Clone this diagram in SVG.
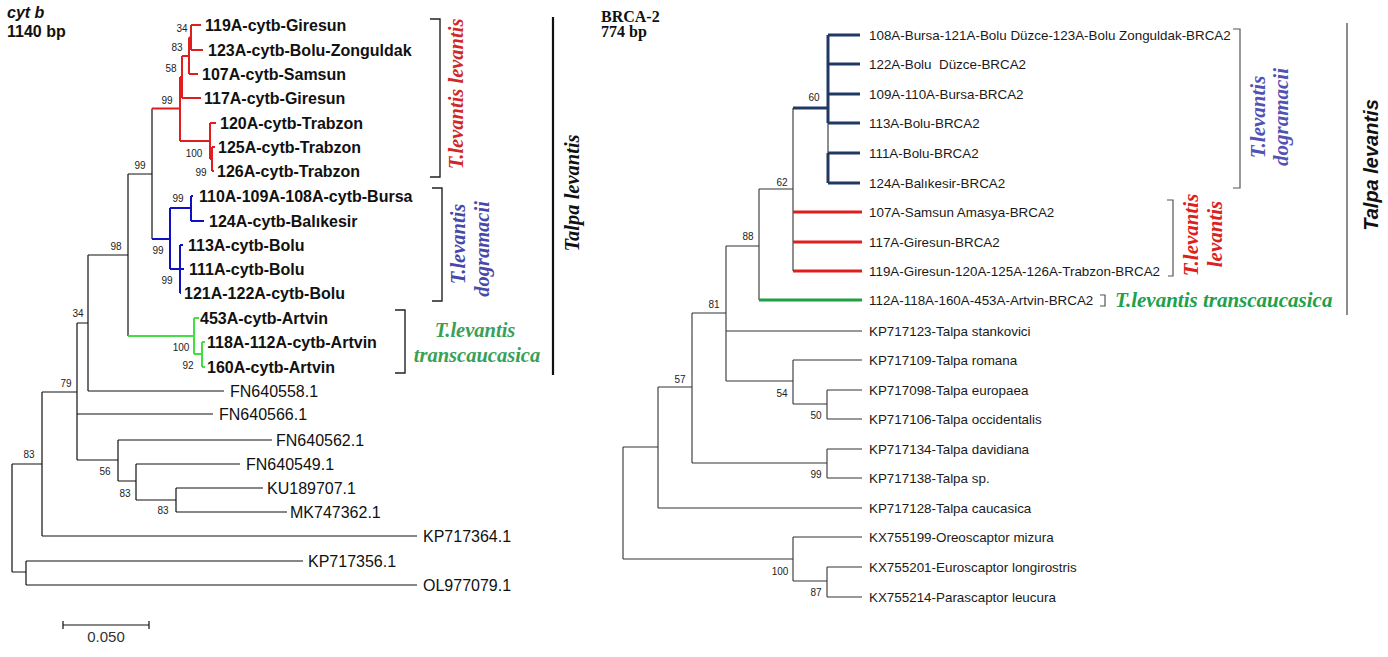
<svg xmlns="http://www.w3.org/2000/svg" width="1388" height="657" viewBox="0 0 1388 657">
<style>
.bg{fill:#fff}
.k{stroke:#111;stroke-width:1.2;fill:none}
.kr{stroke:#333;stroke-width:1.1;fill:none}
.red{stroke:#e01e1e;stroke-width:2;fill:none}
.blu{stroke:#1010c0;stroke-width:2;fill:none}
.grn{stroke:#44dd44;stroke-width:2;fill:none}
.rred{stroke:#e01e1e;stroke-width:3;fill:none}
.rnav{stroke:#1f3864;stroke-width:3;fill:none}
.rgrn{stroke:#1fa044;stroke-width:3;fill:none}
.brk{stroke:#222;stroke-width:1.4;fill:none}
.brkr{stroke:#555;stroke-width:1.2;fill:none}
.lb{font-family:"Liberation Sans",Arial,sans-serif;font-weight:bold;font-size:16px;fill:#111}
.ln{font-family:"Liberation Sans",Arial,sans-serif;font-size:16px;fill:#111}
.rl{font-family:"Liberation Sans",Arial,sans-serif;font-size:13.4px;fill:#1a1a1a}
.bs{font-family:"Liberation Sans",Arial,sans-serif;font-size:10px;fill:#222;text-anchor:middle}
.cl{font-family:"Liberation Serif","Times New Roman",serif;font-weight:bold;font-style:italic;font-size:20.5px}
.clr{font-family:"Liberation Serif","Times New Roman",serif;font-weight:bold;font-style:italic;font-size:21px}
</style>
<rect class="bg" x="0" y="0" width="1388" height="657"/>

<g id="title-left">
<text x="7" y="18" style="font-family:'Liberation Sans',Arial,sans-serif;font-weight:bold;font-style:italic;font-size:16px" fill="#111">cyt b</text>
<text x="7" y="36.5" class="lb">1140 bp</text>
</g>
<g id="title-right">
<text x="601" y="22" style="font-family:'Liberation Serif','Times New Roman',serif;font-weight:bold;font-size:16px" fill="#111">BRCA-2</text>
<text x="601" y="37" style="font-family:'Liberation Serif','Times New Roman',serif;font-weight:bold;font-size:16px" fill="#111">774 bp</text>
</g>

<g id="connectors">
<path class="k" d="M12 464V572M12 464H42M12 572H26M26 561V585M26 561H303M26 585H417M42 392V536M42 392H77M42 536H417M77 323V460M77 323H88M77 414H213M77 460H118M118 440V481M118 440H272M118 481H136M136 464V500M136 464H240M136 500H176M176 488V512M176 488H263M176 512H287M88 255V391M88 255H128M88 391H224M128 174V336M128 174H152M152 108.5V239"/>
<path class="red" d="M152 108.5H180M180 77V141M180 77H182M182 56V98M182 56H189M189 37.5V74M189 37.5H191M191 25V50M191 25H201M191 50H203M189 74H198M182 98H201M180 141H210M210 123V159M210 123H216M210 159H212M212 147V171M212 147H215M212 171H214"/>
<path class="blu" d="M152 239H170M170 208V269M170 208H191M191 196V221M191 196H193M191 221H204M170 269H180M180 245V293M180 245H183M180 269H184M180 293H181"/>
<path class="grn" d="M128 336H194M194 318V354M194 318H199M194 354H202M202 342V367M202 342H205M202 367H205"/>
<path class="k" d="M63 625H149M63 621V629M149 621V629"/>
<path class="kr" d="M623 447V559M623 447H658M658 387V508M658 508H862M658 387H692M692 313V463M692 313H726M726 246V381M726 331H862M726 381H793M793 360V404M793 360H862M793 404H827M827 390V419M827 390H862M827 419H862M692 463H827M827 449V478M827 449H862M827 478H862M623 559H793M793 537V581M793 537H862M793 581H827M827 567V597M827 567H862M827 597H862M726 246H759M759 189V300M759 189H793M793 108V271M828 123V153"/>
<path class="rnav" d="M793 108H828M828 35V123M828 153V183M828 35H860M828 64H860M828 94H860M828 123H860M828 153H860M828 183H860"/>
<path class="rred" d="M793 212H862M793 242H862M793 271H862"/>
<path class="rgrn" d="M759 300H862"/>
<path class="brk" d="M430 19H440V177H430M432 188H442V301H432M395 310H405V373H395"/>
<path d="M553 17V375" stroke="#111" stroke-width="2.2" fill="none"/>
<path class="brkr" d="M1233 29H1240V188H1233M1167 200H1173V276H1168M1100 295H1105V306H1100"/>
<path d="M1347 23V315" stroke="#666" stroke-width="1.5" fill="none"/>
</g>

<g id="scale-label"><text x="106" y="642" text-anchor="middle" style="font-family:'Liberation Sans',Arial,sans-serif;font-size:15px" fill="#333">0.050</text></g>

<g id="left-leaves">
<g id="L119A"><text class="lb" x="205" y="31">119A-cytb-Giresun</text></g>
<g id="L123A"><text class="lb" x="208" y="56">123A-cytb-Bolu-Zonguldak</text></g>
<g id="L107A"><text class="lb" x="202" y="80">107A-cytb-Samsun</text></g>
<g id="L117A"><text class="lb" x="204" y="104">117A-cytb-Giresun</text></g>
<g id="L120A"><text class="lb" x="220" y="129">120A-cytb-Trabzon</text></g>
<g id="L125A"><text class="lb" x="218" y="153">125A-cytb-Trabzon</text></g>
<g id="L126A"><text class="lb" x="217" y="177">126A-cytb-Trabzon</text></g>
<g id="L110A"><text class="lb" x="199" y="202">110A-109A-108A-cytb-Bursa</text></g>
<g id="L124A"><text class="lb" x="209" y="227">124A-cytb-Balıkesir</text></g>
<g id="L113A"><text class="lb" x="188" y="251">113A-cytb-Bolu</text></g>
<g id="L111A"><text class="lb" x="189" y="275">111A-cytb-Bolu</text></g>
<g id="L121A"><text class="lb" x="184" y="299">121A-122A-cytb-Bolu</text></g>
<g id="L453A"><text class="lb" x="200" y="324">453A-cytb-Artvin</text></g>
<g id="L118A"><text class="lb" x="207" y="348">118A-112A-cytb-Artvin</text></g>
<g id="L160A"><text class="lb" x="207" y="373">160A-cytb-Artvin</text></g>
<g id="LFN640558"><text class="ln" x="230" y="397">FN640558.1</text></g>
<g id="LFN640566"><text class="ln" x="219" y="420">FN640566.1</text></g>
<g id="LFN640562"><text class="ln" x="276" y="446">FN640562.1</text></g>
<g id="LFN640549"><text class="ln" x="246" y="470">FN640549.1</text></g>
<g id="LKU189707"><text class="ln" x="267" y="494">KU189707.1</text></g>
<g id="LMK747362"><text class="ln" x="290" y="518">MK747362.1</text></g>
<g id="LKP717364"><text class="ln" x="423" y="542">KP717364.1</text></g>
<g id="LKP717356"><text class="ln" x="308" y="567">KP717356.1</text></g>
<g id="LOL977079"><text class="ln" x="423" y="591">OL977079.1</text></g>
</g>

<g id="left-support">
<text class="bs" x="182" y="31.5">34</text>
<text class="bs" x="177" y="50.5">83</text>
<text class="bs" x="171" y="71.5">58</text>
<text class="bs" x="167" y="103.5">99</text>
<text class="bs" x="194" y="156.5">100</text>
<text class="bs" x="201" y="175.5">99</text>
<text class="bs" x="140" y="168.5">99</text>
<text class="bs" x="178" y="201.5">99</text>
<text class="bs" x="158" y="253.5">99</text>
<text class="bs" x="167" y="283.5">99</text>
<text class="bs" x="116" y="249.5">98</text>
<text class="bs" x="181" y="350.5">100</text>
<text class="bs" x="188" y="368.5">92</text>
<text class="bs" x="78" y="316.5">34</text>
<text class="bs" x="66" y="386.5">79</text>
<text class="bs" x="29" y="457.5">83</text>
<text class="bs" x="105" y="474.5">56</text>
<text class="bs" x="125" y="496.5">83</text>
<text class="bs" x="163" y="513.5">83</text>
</g>

<g id="left-clade-levantis"><text class="cl" fill="#d02828" text-anchor="middle" transform="translate(463 94) rotate(-90)">T.levantis levantis</text></g>
<g id="left-clade-dogramacii">
<text class="cl" fill="#4848a8" text-anchor="middle" transform="translate(465 244) rotate(-90)">T.levantis</text>
<text class="cl" fill="#4848a8" text-anchor="middle" transform="translate(489 249) rotate(-90)">dogramacii</text>
</g>
<g id="left-clade-transcaucasica">
<text class="cl" fill="#38a058" text-anchor="middle" x="475" y="337">T.levantis</text>
<text class="cl" fill="#38a058" text-anchor="middle" x="477" y="362">transcaucasica</text>
</g>
<g id="left-species"><text class="cl" fill="#111" text-anchor="middle" transform="translate(579 193) rotate(-90)">Talpa levantis</text></g>

<g id="right-leaves">
<g id="R0"><text class="rl" x="869" y="39.7">108A-Bursa-121A-Bolu Düzce-123A-Bolu Zonguldak-BRCA2</text></g>
<g id="R1"><text class="rl" x="869" y="68.7" xml:space="preserve">122A-Bolu  Düzce-BRCA2</text></g>
<g id="R2"><text class="rl" x="869" y="98.7">109A-110A-Bursa-BRCA2</text></g>
<g id="R3"><text class="rl" x="869" y="127.7">113A-Bolu-BRCA2</text></g>
<g id="R4"><text class="rl" x="869" y="157.7">111A-Bolu-BRCA2</text></g>
<g id="R5"><text class="rl" x="869" y="187.7">124A-Balıkesir-BRCA2</text></g>
<g id="R6"><text class="rl" x="869" y="216.7">107A-Samsun Amasya-BRCA2</text></g>
<g id="R7"><text class="rl" x="869" y="246.7">117A-Giresun-BRCA2</text></g>
<g id="R8"><text class="rl" x="869" y="275.7">119A-Giresun-120A-125A-126A-Trabzon-BRCA2</text></g>
<g id="R9"><text class="rl" x="869" y="304.7">112A-118A-160A-453A-Artvin-BRCA2</text></g>
<g id="R10"><text class="rl" x="869" y="335.7">KP717123-Talpa stankovici</text></g>
<g id="R11"><text class="rl" x="869" y="364.7">KP717109-Talpa romana</text></g>
<g id="R12"><text class="rl" x="869" y="394.7">KP717098-Talpa europaea</text></g>
<g id="R13"><text class="rl" x="869" y="423.7">KP717106-Talpa occidentalis</text></g>
<g id="R14"><text class="rl" x="869" y="453.7">KP717134-Talpa davidiana</text></g>
<g id="R15"><text class="rl" x="869" y="482.7">KP717138-Talpa sp.</text></g>
<g id="R16"><text class="rl" x="869" y="512.7">KP717128-Talpa caucasica</text></g>
<g id="R17"><text class="rl" x="869" y="541.7">KX755199-Oreoscaptor mizura</text></g>
<g id="R18"><text class="rl" x="869" y="571.7">KX755201-Euroscaptor longirostris</text></g>
<g id="R19"><text class="rl" x="869" y="601.7">KX755214-Parascaptor leucura</text></g>
</g>

<g id="right-support">
<text class="bs" x="814" y="100.5">60</text>
<text class="bs" x="782" y="185.5">62</text>
<text class="bs" x="748" y="239.5">88</text>
<text class="bs" x="714" y="307.5">81</text>
<text class="bs" x="680" y="382.5">57</text>
<text class="bs" x="782" y="396.5">54</text>
<text class="bs" x="816" y="418.5">50</text>
<text class="bs" x="816" y="477.5">99</text>
<text class="bs" x="780" y="574.5">100</text>
<text class="bs" x="816" y="595.5">87</text>
</g>

<g id="right-clade-dogramacii">
<text class="clr" fill="#5252b4" text-anchor="middle" transform="translate(1265 117) rotate(-90)">T.levantis</text>
<text class="clr" fill="#5252b4" text-anchor="middle" transform="translate(1288 117) rotate(-90)">dogramacii</text>
</g>
<g id="right-clade-levantis">
<text class="clr" fill="#dc2020" text-anchor="middle" transform="translate(1198 235) rotate(-90)">T.levantis</text>
<text class="clr" fill="#dc2020" text-anchor="middle" transform="translate(1222 234) rotate(-90)">levantis</text>
</g>
<g id="right-clade-transcaucasica"><text class="clr" fill="#22a04a" x="1115" y="307">T.levantis transcaucasica</text></g>
<g id="right-species"><text fill="#111" text-anchor="middle" transform="translate(1378 165) rotate(-90)" style="font-family:'Liberation Sans',Arial,sans-serif;font-weight:bold;font-style:italic;font-size:20px">Talpa levantis</text></g>
</svg>
